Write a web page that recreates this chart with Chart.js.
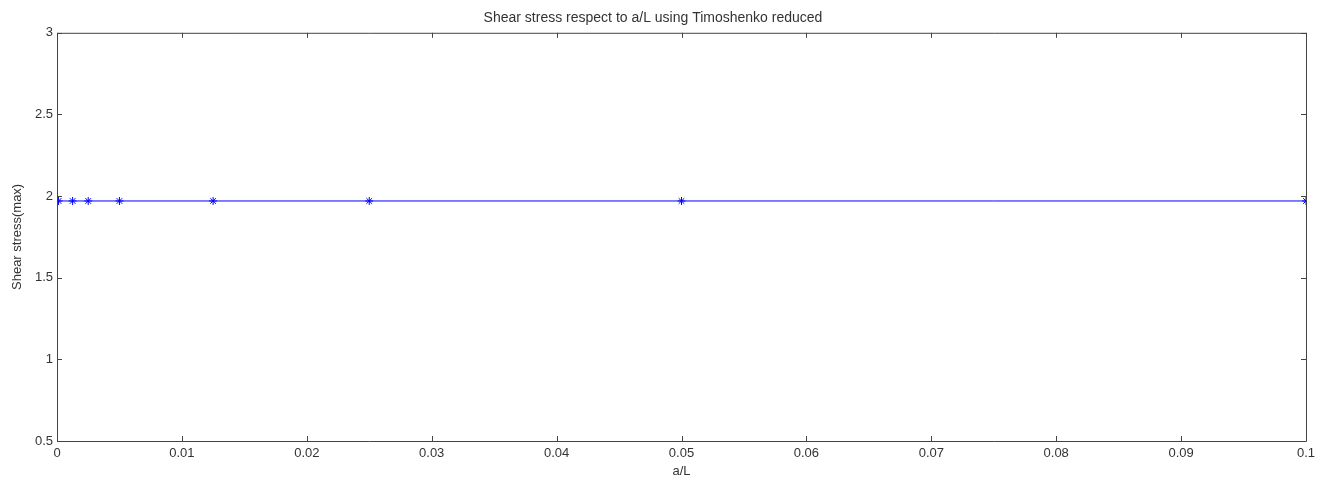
<!DOCTYPE html>
<html>
<head>
<meta charset="utf-8">
<script src="https://cdn.jsdelivr.net/npm/chart.js@4"></script>
<style>
  html, body { margin: 0; padding: 0; background: #fff; }
  #wrap { width: 1318px; height: 482px; }
</style>
</head>
<body>
<div id="wrap"><canvas id="shearChart"></canvas></div>
<script>
// ===== Data =====
const ratios = [0.000125, 0.00125, 0.0025, 0.005, 0.0125, 0.025, 0.05, 0.1];
const shearMax = [1.97, 1.97, 1.97, 1.97, 1.97, 1.97, 1.97, 1.97];
const xTicks = [0, 0.01, 0.02, 0.03, 0.04, 0.05, 0.06, 0.07, 0.08, 0.09, 0.1];
const yTicks = [0.5, 1, 1.5, 2, 2.5, 3];

const textColor = '#333';
const axisColor = '#444';
const fontFam = 'Liberation Sans, Arial';

// ---------- box + inward ticks like matlab ----------
const boxTicks = {
  id: 'boxTicks',
  afterDraw(chart) {
    const { ctx, chartArea: a, scales } = chart;
    const len = 5;
    ctx.save();
    ctx.strokeStyle = axisColor;
    ctx.lineWidth = 1;
    ctx.beginPath();
    ctx.rect(a.left + 0.5, a.top + 0.5, a.right - a.left, a.bottom - a.top);
    xTicks.forEach(v => {
      const x = Math.round(scales.x.getPixelForValue(v)) + 0.5;
      ctx.moveTo(x, a.bottom); ctx.lineTo(x, a.bottom - len);
      ctx.moveTo(x, a.top); ctx.lineTo(x, a.top + len);
    });
    yTicks.forEach(v => {
      const y = Math.round(scales.y.getPixelForValue(v)) + 0.5;
      ctx.moveTo(a.left, y); ctx.lineTo(a.left + len, y);
      ctx.moveTo(a.right, y); ctx.lineTo(a.right - len, y);
    });
    ctx.stroke();
    ctx.restore();
  }
};

const hiddenGrid = { display: true, drawOnChartArea: false, drawTicks: false, color: 'rgba(0,0,0,0)' };

const ctx = document.getElementById('shearChart');
new Chart(ctx, {
  type: 'line',
  data: {
    datasets: [{
      label: 'Shear stress',
      data: ratios.map((r, i) => ({ x: r, y: shearMax[i] })),
      borderColor: '#0000ff',
      backgroundColor: '#0000ff',
      borderWidth: 1,
      pointStyle: 'star',
      pointRadius: 4,
      pointBorderWidth: 1,
      pointBorderColor: '#0000ff',
      tension: 0
    }]
  },
  plugins: [boxTicks],
  options: {
    responsive: true,
    maintainAspectRatio: false,
    animation: false,
    layout: { padding: { right: 12, left: 0, top: 0, bottom: 0 } },
    plugins: {
      legend: { display: false },
      tooltip: { enabled: false },
      title: {
        display: true,
        text: 'Shear stress respect to a/L using Timoshenko reduced',
        color: textColor,
        font: { family: fontFam, size: 14, weight: 'normal' },
        padding: { top: 10, bottom: 6 }
      }
    },
    scales: {
      x: {
        type: 'linear',
        min: 0, max: 0.1,
        afterBuildTicks: s => { s.ticks = xTicks.map(v => ({ value: v })); },
        afterFit: s => { s.height = 41; s.paddingRight = 0; s.paddingLeft = 0; },
        grid: hiddenGrid,
        border: { display: false },
        ticks: {
          color: textColor,
          padding: 5,
          maxRotation: 0,
          autoSkip: false,
          font: { family: fontFam, size: 13 },
          callback: v => String(v)
        },
        title: {
          display: true, text: 'a/L', color: textColor,
          padding: { top: 0, bottom: 3 },
          font: { family: fontFam, size: 13 }
        }
      },
      y: {
        type: 'linear',
        min: 0.5, max: 3,
        afterBuildTicks: s => { s.ticks = yTicks.map(v => ({ value: v })); },
        afterFit: s => { s.width = 57; s.paddingTop = 0; s.paddingBottom = 0; },
        grid: hiddenGrid,
        border: { display: false },
        ticks: {
          color: textColor,
          padding: 4,
          font: { family: fontFam, size: 13 },
          callback: v => String(v)
        },
        title: {
          display: true, text: 'Shear stress(max)', color: textColor,
          padding: { top: 10, bottom: 0 },
          font: { family: fontFam, size: 13 }
        }
      }
    }
  }
});
</script>
</body>
</html>
